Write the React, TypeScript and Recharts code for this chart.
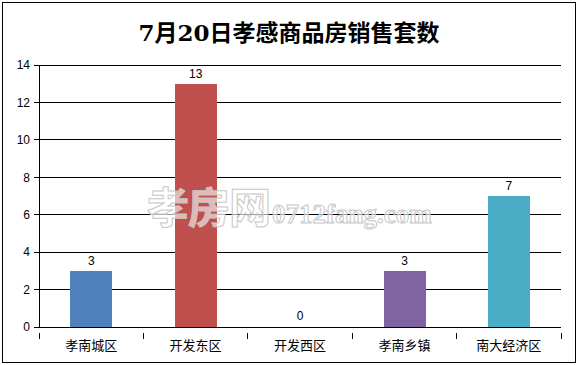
import { BarChart, Bar, XAxis, YAxis, CartesianGrid, LabelList, Cell } from 'recharts'

const districts = ['孝南城区', '开发东区', '开发西区', '孝南乡镇', '南大经济区']
const sales = [3, 13, 0, 3, 7]
const barColors = ['#4F81BD', '#C0504D', '#9BBB59', '#8064A2', '#4BACC6']
const yTicks = [0, 2, 4, 6, 8, 10, 12, 14]

const data = districts.map((name, i) => ({ name, value: sales[i] }))

const font = '"Liberation Sans", "Noto Sans CJK SC", sans-serif'

// category label plus a tick mark on the left edge of each band (and right edge of the last)
function CategoryTick(props: any) {
  const { x, y, payload, index, visibleTicksCount } = props
  const half = payload.offset || 52.2
  const top = y - 8
  return (
    <g>
      <line x1={x - half} x2={x - half} y1={top} y2={top + 6} stroke="#000" />
      {index === visibleTicksCount - 1 && (
        <line x1={x + half} x2={x + half} y1={top} y2={top + 6} stroke="#000" />
      )}
      <text x={x} y={y + 9} textAnchor="middle" fill="#000" fontSize={13} fontFamily={font}>
        {payload.value}
      </text>
    </g>
  )
}

export default function App() {
  return (
    <div style={{ position: 'absolute', left: 0, top: 0, width: 578, height: 365, background: '#fff' }}>
      <div
        style={{
          position: 'absolute',
          left: 2,
          top: 2,
          width: 572,
          height: 359,
          border: '1px solid #000',
        }}
      />
      <div
        style={{
          position: 'absolute',
          left: 0,
          top: 14,
          width: 578,
          textAlign: 'center',
          fontFamily: '"DejaVu Serif", "Noto Sans CJK SC", serif',
          fontWeight: 'bold',
          fontSize: 23,
          color: '#000',
        }}
      >
        7月20日孝感商品房销售套数
      </div>
      <BarChart
        width={578}
        height={365}
        data={data}
        margin={{ top: 65, right: 17, bottom: 8, left: 0 }}
        barCategoryGap="30%"
        style={{ position: 'absolute', left: 0, top: 0, shapeRendering: 'crispEdges' }}
      >
        <CartesianGrid vertical={false} stroke="#000" strokeWidth={1} />
        <XAxis
          dataKey="name"
          axisLine={{ stroke: '#000' }}
          tickLine={false}
          tick={<CategoryTick />}
          tickMargin={8}
          height={30}
          interval={0}
        />
        <YAxis
          domain={[0, 14]}
          ticks={yTicks}
          width={39}
          axisLine={{ stroke: '#000' }}
          tickLine={{ stroke: '#000' }}
          tickSize={5}
          tick={{ fill: '#000', fontSize: 12, fontFamily: font }}
          tickMargin={4}
        />
        <Bar dataKey="value" isAnimationActive={false} minPointSize={1}>
          {data.map((d, i) => (
            <Cell key={d.name} fill={d.value === 0 ? 'transparent' : barColors[i]} />
          ))}
          <LabelList dataKey="value" position="top" fill="#000" fontSize={12} fontFamily={font} offset={6} />
        </Bar>
      </BarChart>
      <div
        style={{
          position: 'absolute',
          left: 147,
          top: 174,
          fontFamily: '"Noto Sans CJK SC", sans-serif',
          fontWeight: 'bold',
          fontSize: 42,
          color: 'rgba(255,255,255,0.6)',
          WebkitTextStroke: '1px #c8c8c8',
          whiteSpace: 'nowrap',
          letterSpacing: -1,
        }}
      >
        孝房网
        <span style={{ fontFamily: '"Liberation Serif", serif', fontSize: 27, letterSpacing: 0, marginLeft: 2 }}>0712fang.com</span>
      </div>
    </div>
  )
}
